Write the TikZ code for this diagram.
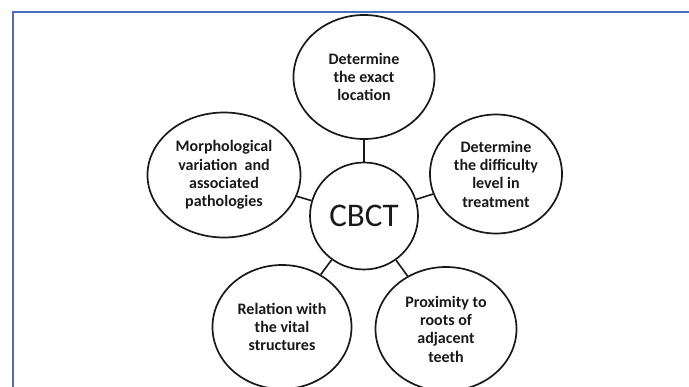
\documentclass[tikz,border=0pt]{standalone}
\usepackage{fontspec}
\setmainfont{Carlito}
\usetikzlibrary{shapes.geometric}
\definecolor{frameblue}{RGB}{72,112,192}
\definecolor{ink}{RGB}{25,25,25}
\begin{document}
\begin{tikzpicture}[x=1pt,y=-1pt,
  bubble/.style={draw=ink, line width=1.7pt, ellipse, inner sep=0pt, fill=white},
  caption/.style={align=center, text=ink, font=\fontsize{16}{18.3}\selectfont\bfseries},
  link/.style={draw=ink, line width=1.6pt},
  frame/.style={draw=frameblue, line width=2pt}]
\useasboundingbox (0,0) rectangle (689,387);
\fill[white] (0,0) rectangle (689,387);
\draw[frame] (12.5,387) -- (12.5,12.5) -- (689,12.5);

% hub
\node[bubble, minimum width=108pt, minimum height=107pt] (cbct) at (364,216) {};
\node[text=ink, font=\fontsize{33}{36}\selectfont] (cbcttxt) at (cbct) {CBCT};

% satellites
\node[bubble, minimum width=141pt, minimum height=124pt] (loc) at (364,77) {};
\node[bubble, minimum width=153pt, minimum height=125pt] (morph) at (224,175) {};
\node[bubble, minimum width=132pt, minimum height=119pt] (diff) at (496,174) {};
\node[bubble, minimum width=139pt, minimum height=124pt] (vital) at (282,327) {};
\node[bubble, minimum width=141pt, minimum height=124pt] (roots) at (446,329) {};

\node[caption] (loctxt) at (loc) {Determine\\the exact\\location};
\node[caption] (morphtxt) at (morph) {Morphological\\variation~ and\\associated\\pathologies};
\node[caption] (difftxt) at (diff) {Determine\\the difficulty\\level in\\treatment};
\node[caption] (vitaltxt) at (vital) {Relation with\\the vital\\structures};
\node[caption] (rootstxt) at (roots) {Proximity to\\roots of\\adjacent\\teeth};

% spokes
\draw[link] (cbct) -- (loc);
\draw[link] (cbct) -- (morph);
\draw[link] (cbct) -- (diff);
\draw[link] (cbct) -- (vital);
\draw[link] (cbct) -- (roots);
\end{tikzpicture}
\end{document}
